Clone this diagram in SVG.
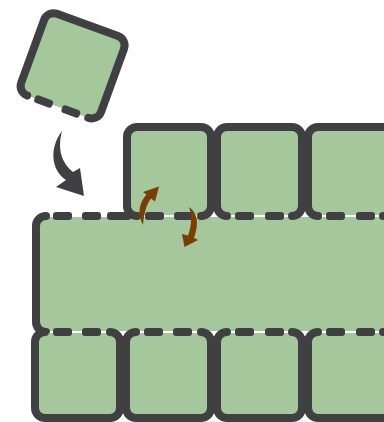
<svg xmlns="http://www.w3.org/2000/svg" width="384" height="422" viewBox="0 0 384 422">
<style>
.fill{fill:#a4c79c;stroke:none}
.edge{fill:none;stroke:#404042;stroke-width:8;stroke-linecap:round;stroke-linejoin:round}
.dash{fill:#404042}
.brown{fill:#7a3e00}
.grey{fill:#404042}
</style>
<rect width="384" height="422" fill="#ffffff"/>
<g id="tilted-box" transform="translate(72.6,65.8) rotate(20)">
<rect class="fill" x="-42.5" y="-43.5" width="85" height="87" rx="10"/>
<path class="edge" d="M-32.5,43.5 A10,10 0 0 1 -42.5,33.5 V-33.5 A10,10 0 0 1 -32.5,-43.5 H32.5 A10,10 0 0 1 42.5,-33.5 V33.5 A10,10 0 0 1 32.5,43.5"/>
<rect class="dash" x="-24.5" y="39.5" width="19" height="8" rx="3"/>
<rect class="dash" x="4.5" y="39.5" width="19" height="8" rx="3"/>
</g>
<g id="middle-block">
<rect class="fill" x="36" y="217" width="400" height="114" rx="10"/>
<path class="edge" d="M46,216 A10,10 0 0 0 36,226 V322 A10,10 0 0 0 46,332"/>
</g>
<g id="top-box-1">
<rect class="fill" x="127" y="127" width="84" height="88" rx="10"/>
<path class="edge" d="M137,216 A10,10 0 0 1 127,206 V137 A10,10 0 0 1 137,127 H201 A10,10 0 0 1 211,137 V206 A10,10 0 0 1 201,216"/>
</g>
<g id="top-box-2">
<rect class="fill" x="217" y="127" width="85" height="88" rx="10"/>
<path class="edge" d="M227,216 A10,10 0 0 1 217,206 V137 A10,10 0 0 1 227,127 H292 A10,10 0 0 1 302,137 V206 A10,10 0 0 1 292,216"/>
</g>
<g id="top-box-3">
<rect class="fill" x="308" y="127" width="85" height="88" rx="10"/>
<path class="edge" d="M318,216 A10,10 0 0 1 308,206 V137 A10,10 0 0 1 318,127 H383 A10,10 0 0 1 393,137 V206 A10,10 0 0 1 383,216"/>
</g>
<g id="bottom-box-1">
<rect class="fill" x="35" y="333" width="85" height="85" rx="10"/>
<path class="edge" d="M110,332 A10,10 0 0 1 120,342 V408 A10,10 0 0 1 110,418 H45 A10,10 0 0 1 35,408 V342 A10,10 0 0 1 45,332"/>
</g>
<g id="bottom-box-2">
<rect class="fill" x="126" y="333" width="85" height="85" rx="10"/>
<path class="edge" d="M201,332 A10,10 0 0 1 211,342 V408 A10,10 0 0 1 201,418 H136 A10,10 0 0 1 126,408 V342 A10,10 0 0 1 136,332"/>
</g>
<g id="bottom-box-3">
<rect class="fill" x="217" y="333" width="85" height="85" rx="10"/>
<path class="edge" d="M292,332 A10,10 0 0 1 302,342 V408 A10,10 0 0 1 292,418 H227 A10,10 0 0 1 217,408 V342 A10,10 0 0 1 227,332"/>
</g>
<g id="bottom-box-4">
<rect class="fill" x="308" y="333" width="85" height="85" rx="10"/>
<path class="edge" d="M383,332 A10,10 0 0 1 393,342 V408 A10,10 0 0 1 383,418 H318 A10,10 0 0 1 308,408 V342 A10,10 0 0 1 318,332"/>
</g>
<g id="dashes">
<rect class="dash" x="53" y="212" width="19" height="8" rx="3"/>
<rect class="dash" x="82" y="212" width="19" height="8" rx="3"/>
<rect class="dash" x="107" y="212" width="24" height="8" rx="3"/>
<rect class="dash" x="145" y="212" width="19" height="8" rx="3"/>
<rect class="dash" x="174" y="212" width="19" height="8" rx="3"/>
<rect class="dash" x="235" y="212" width="19" height="8" rx="3"/>
<rect class="dash" x="265" y="212" width="19" height="8" rx="3"/>
<rect class="dash" x="326" y="212" width="19" height="8" rx="3"/>
<rect class="dash" x="356" y="212" width="19" height="8" rx="3"/>
<rect class="dash" x="53" y="328" width="19" height="8" rx="3"/>
<rect class="dash" x="82" y="328" width="19" height="8" rx="3"/>
<rect class="dash" x="144" y="328" width="19" height="8" rx="3"/>
<rect class="dash" x="173" y="328" width="19" height="8" rx="3"/>
<rect class="dash" x="235" y="328" width="19" height="8" rx="3"/>
<rect class="dash" x="265" y="328" width="19" height="8" rx="3"/>
<rect class="dash" x="326" y="328" width="19" height="8" rx="3"/>
<rect class="dash" x="356" y="328" width="19" height="8" rx="3"/>
</g>
<g id="connectors">
<path class="grey" d="M62,131 C49,148 51,170 66,180 L56,187 L84,196 L80,168 L73,172 C62,163 57,150 62,131 Z"/>
<path class="brown" d="M143,225 C137,214 139,203 146.5,194.5 L143,192 L159,186.5 L155,201.5 L151,198.5 C146,205 144,214 143,225 Z"/>
<path class="brown" d="M189,207 C198,213 199,224 194,237.7 L198,240 L184.5,247 L182,234 L188,235.5 C192,225 192,215 189,207 Z"/>
</g>
</svg>
